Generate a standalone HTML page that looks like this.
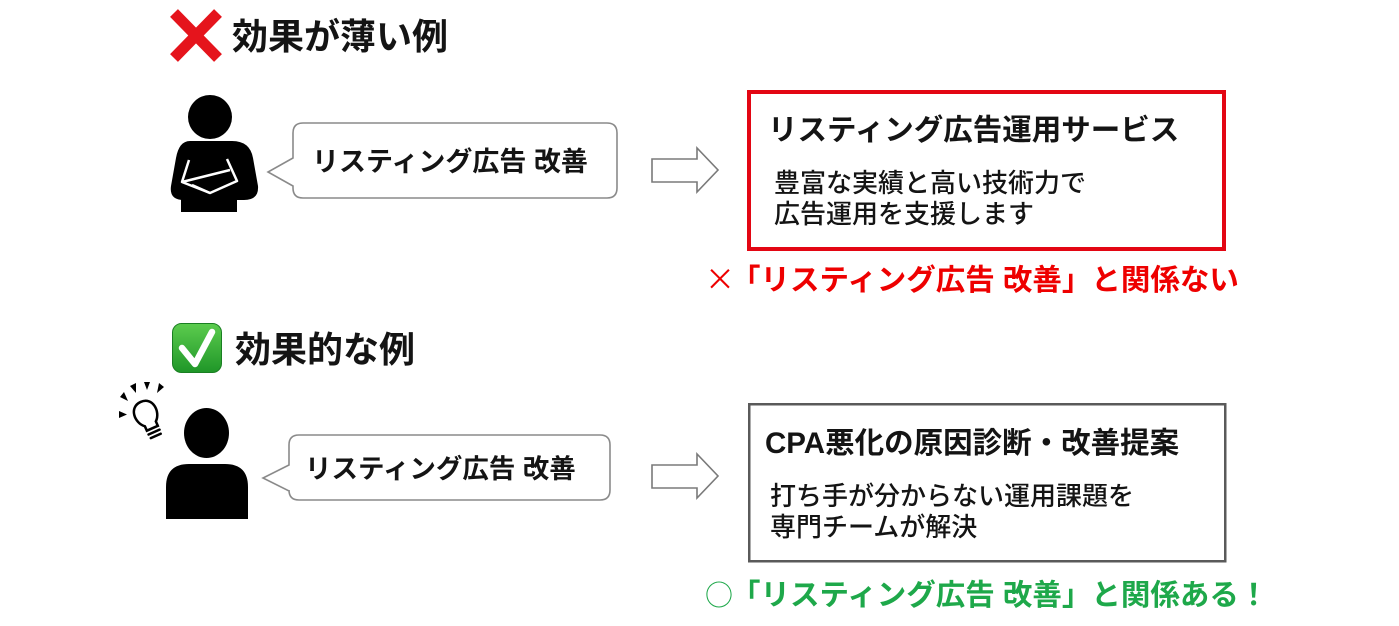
<!DOCTYPE html>
<html lang="ja">
<head>
<meta charset="utf-8">
<style>
  html, body { margin:0; padding:0; background:#ffffff; }
  #wrap { position:relative; width:1399px; height:626px; overflow:hidden; background:#ffffff;
    font-family:"Liberation Sans","Noto Sans CJK JP",sans-serif; font-weight:bold; color:#141414; }
  svg { position:absolute; left:0; top:0; }
  .t { position:absolute; white-space:nowrap; }
  .sym { display:inline-block; width:26px; line-height:1px; text-align:left; font-family:"Noto Sans CJK JP",sans-serif; font-weight:normal; }
</style>
</head>
<body>
<div id="wrap">
<svg width="1399" height="626" viewBox="0 0 1399 626">
  <defs>
    <linearGradient id="g" x1="0" y1="0" x2="0" y2="1">
      <stop offset="0" stop-color="#5ccc4e"/>
      <stop offset="1" stop-color="#1f9628"/>
    </linearGradient>
  </defs>

  <!-- Red X -->
  <line x1="174" y1="13" x2="218" y2="58" stroke="#e5141c" stroke-width="11"/>
  <line x1="218" y1="13" x2="174" y2="58" stroke="#e5141c" stroke-width="11"/>

  <!-- Person 1 (arms crossed) -->
  <circle cx="210" cy="117" r="22" fill="#000"/>
  <path d="M190,141 L232,141 Q250,141 253,158 L258,186 Q259,200 244,200 L184,200 Q169,200 171,186 L176,158 Q179,141 190,141 Z" fill="#000"/>
  <rect x="181" y="195" width="56" height="17" fill="#000"/>
  <g fill="none" stroke="#fff" stroke-width="2.5" stroke-linejoin="round">
    <path d="M189,160 L182,182 L210,193 L237,181 L227,159"/>
    <path d="M182,182 L230,170"/>
    <path d="M210,193 L192,185"/>
  </g>

  <!-- Bubble 1 -->
  <path d="M303,123 H607 Q617,123 617,133 V188 Q617,198 607,198 H303 Q293,198 293,188 V186 L268,172 L293,158 V133 Q293,123 303,123 Z" fill="#fff" stroke="#8a8a8a" stroke-width="1.6"/>

  <!-- Arrow 1 -->
  <polygon points="652,159 697,159 697,148 718,170 697,192 697,182 652,182" fill="#fff" stroke="#7a7a7a" stroke-width="1.6"/>

  <!-- Box 1 -->
  <rect x="749" y="92" width="475" height="157" fill="#fff" stroke="#e30613" stroke-width="4"/>

  <!-- Check emoji -->
  <rect x="172.5" y="323.5" width="49" height="49" rx="9" fill="url(#g)" stroke="#1a7f22" stroke-width="1"/>
  <polyline points="182,348 195,364 212,332" fill="none" stroke="#fff" stroke-width="6.5" stroke-linecap="round" stroke-linejoin="round"/>

  <!-- Light bulb -->
  <g transform="translate(146,414) rotate(-24) scale(1.2)" stroke="#000" stroke-width="2.1" fill="#fff" stroke-linecap="round">
    <path d="M-5,9 C-12,3 -11,-11 0,-11 C11,-11 12,3 5,9 L5,13 L-5,13 Z"/>
    <path d="M-5,16.5 H5 M-4.5,20 H4.5" fill="none"/>
  </g>
  <g fill="#000">
    <polygon points="119,411 119,418 127,414.5"/>
    <polygon points="120,397 124,392 128,401"/>
    <polygon points="130,386 136,383 136,393"/>
    <polygon points="144,382 150,382 147,390"/>
    <polygon points="159,383 164,387 157,393"/>
  </g>

  <!-- Person 2 -->
  <ellipse cx="206.5" cy="433" rx="22.5" ry="25" fill="#000"/>
  <path d="M166,519 L166,487 Q166,464 189,464 L225,464 Q248,464 248,487 L248,519 Z" fill="#000"/>

  <!-- Bubble 2 -->
  <path d="M299,435 H600 Q610,435 610,445 V490 Q610,500 600,500 H299 Q289,500 289,490 V491 L263,478 L289,465 V445 Q289,435 299,435 Z" fill="#fff" stroke="#8a8a8a" stroke-width="1.6"/>

  <!-- Arrow 2 -->
  <polygon points="652,465 697,465 697,454 718,476 697,498 697,488 652,488" fill="#fff" stroke="#7a7a7a" stroke-width="1.6"/>

  <!-- Box 2 -->
  <rect x="749.25" y="404.25" width="476" height="157" fill="#fff" stroke="#5a5a5a" stroke-width="2.5"/>
</svg>

<div class="t" style="left:232px; top:19px; font-size:36px; line-height:36px;">効果が薄い例</div>
<div class="t" style="left:312px; top:149px; font-size:27px; line-height:27px;">リスティング広告 改善</div>
<div class="t" style="left:768px; top:116px; font-size:29.5px; line-height:29.5px;">リスティング広告運用サービス</div>
<div class="t" style="left:774px; top:170px; font-size:26px; line-height:26px; font-weight:500;">豊富な実績と高い技術力で</div>
<div class="t" style="left:774px; top:201px; font-size:26px; line-height:26px; font-weight:500;">広告運用を支援します</div>
<div class="t" style="left:705px; top:266px; font-size:29.5px; line-height:29.5px; color:#ee0000;"><span class="sym" style="font-size:30px;">×</span>「リスティング広告 改善」と関係ない</div>

<div class="t" style="left:235px; top:332px; font-size:36px; line-height:36px;">効果的な例</div>
<div class="t" style="left:305px; top:456px; font-size:26.5px; line-height:26.5px;">リスティング広告 改善</div>
<div class="t" style="left:765px; top:429px; font-size:29.5px; line-height:29.5px;">CPA悪化の原因診断・改善提案</div>
<div class="t" style="left:770px; top:483px; font-size:26px; line-height:26px; font-weight:500;">打ち手が分からない運用課題を</div>
<div class="t" style="left:770px; top:514px; font-size:26px; line-height:26px; font-weight:500;">専門チームが解決</div>
<div class="t" style="left:705px; top:581px; font-size:29.5px; line-height:29.5px; color:#1ea84a;"><span class="sym" style="font-size:28px;">○</span>「リスティング広告 改善」と関係ある！</div>
</div>
</body>
</html>
